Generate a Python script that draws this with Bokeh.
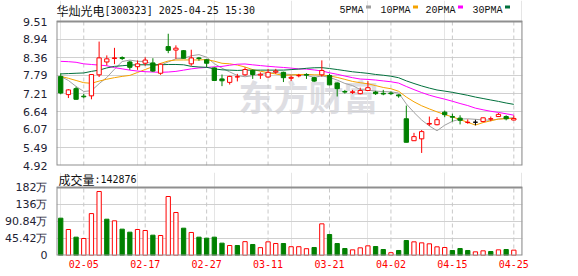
import numpy as np
from bokeh.plotting import figure
from bokeh.layouts import column
from bokeh.models import ColumnDataSource, FixedTicker, NumeralTickFormatter, Range1d, LinearAxis
from bokeh.embed import file_html
from bokeh.resources import INLINE
from bokeh.core.properties import value

# ---------------- data ----------------
dates = ["01-23", "01-24", "01-27", "02-05", "02-06", "02-07", "02-10", "02-11", "02-12", "02-13",
         "02-14", "02-17", "02-18", "02-19", "02-20", "02-21", "02-24", "02-25", "02-26", "02-27",
         "02-28", "03-03", "03-04", "03-05", "03-06", "03-07", "03-10", "03-11", "03-12", "03-13",
         "03-14", "03-17", "03-18", "03-19", "03-20", "03-21", "03-24", "03-25", "03-26", "03-27",
         "03-28", "03-31", "04-01", "04-02", "04-03", "04-07", "04-08", "04-09", "04-10", "04-11",
         "04-14", "04-15", "04-16", "04-17", "04-18", "04-21", "04-22", "04-23", "04-24", "04-25"]
opens = [7.76, 7.18, 7.37, 7.13, 7.14, 7.81, 8.22, 8.33, 8.36, 8.22,
         8.07, 8.18, 8.19, 7.86, 8.71, 8.60, 8.58, 8.16, 8.35, 8.29,
         8.03, 7.68, 7.57, 7.74, 7.81, 7.95, 7.80, 7.74, 7.90, 7.89,
         7.70, 7.78, 7.82, 7.72, 7.81, 7.79, 7.55, 7.28, 7.25, 7.21,
         7.31, 7.26, 7.22, 7.23, 7.17, 6.41, 5.71, 5.77, 6.24, 6.22,
         6.62, 6.48, 6.43, 6.29, 6.30, 6.32, 6.40, 6.48, 6.48, 6.37]
highs = [7.86, 7.35, 7.43, 7.20, 7.83, 8.87, 8.43, 8.67, 8.40, 8.26,
         8.27, 8.37, 8.34, 8.17, 9.12, 8.75, 8.60, 8.61, 8.38, 8.31,
         8.05, 7.82, 7.78, 7.84, 8.05, 7.98, 7.89, 8.00, 8.00, 7.91,
         7.79, 7.84, 7.86, 7.75, 8.27, 7.84, 7.57, 7.33, 7.33, 7.40,
         7.61, 7.30, 7.33, 7.28, 7.19, 6.83, 5.96, 6.05, 6.48, 6.46,
         6.67, 6.57, 6.52, 6.39, 6.38, 6.45, 6.48, 6.59, 6.52, 6.51]
lows = [7.19, 7.07, 7.02, 7.06, 7.03, 7.74, 8.11, 8.15, 8.28, 7.97,
        7.97, 8.10, 7.90, 7.81, 8.50, 8.32, 8.33, 8.10, 8.26, 8.05,
        7.62, 7.45, 7.50, 7.60, 7.78, 7.68, 7.68, 7.72, 7.84, 7.58,
        7.61, 7.73, 7.68, 7.58, 7.75, 7.48, 7.12, 7.21, 7.20, 7.19,
        7.30, 7.17, 7.16, 7.17, 7.08, 5.66, 5.70, 5.32, 6.18, 6.20,
        6.46, 6.32, 6.23, 6.25, 6.20, 6.30, 6.33, 6.47, 6.36, 6.36]
closes = [7.23, 7.33, 7.03, 7.11, 7.82, 8.35, 8.32, 8.35, 8.33, 8.05,
          8.16, 8.28, 7.93, 8.15, 8.59, 8.66, 8.34, 8.35, 8.33, 8.18,
          7.63, 7.62, 7.76, 7.75, 7.98, 7.82, 7.83, 7.89, 7.93, 7.72,
          7.73, 7.79, 7.80, 7.61, 7.95, 7.49, 7.37, 7.26, 7.27, 7.31,
          7.40, 7.21, 7.20, 7.21, 7.14, 5.66, 5.84, 6.00, 6.26, 6.38,
          6.54, 6.46, 6.36, 6.30, 6.30, 6.44, 6.41, 6.55, 6.41, 6.42]
close_before_first = 7.80
volumes = [99.7, 69.5, 49.0, 45.4, 112.0, 171.0, 97.0, 92.6, 70.4, 62.3,
           69.5, 66.8, 54.3, 53.4, 157.6, 114.9, 73.0, 61.5, 49.0, 46.3,
           49.0, 33.0, 26.7, 26.7, 37.0, 29.4, 21.0, 36.5, 32.0, 32.0,
           23.5, 23.5, 18.2, 21.4, 84.6, 56.1, 32.0, 18.7, 15.1, 20.5,
           25.8, 24.0, 16.0, 7.5, 13.4, 40.0, 36.5, 33.8, 31.2, 23.2,
           21.4, 13.4, 18.7, 13.4, 9.8, 12.5, 10.7, 15.1, 16.0, 14.2876]  # 万股
ma5 = [7.76, 7.63, 7.44, 7.28, 7.304, 7.528, 7.726, 7.99, 8.234, 8.28,
       8.242, 8.234, 8.15, 8.114, 8.222, 8.322, 8.334, 8.418, 8.454, 8.372,
       8.166, 8.022, 7.904, 7.788, 7.748, 7.786, 7.828, 7.854, 7.89, 7.838,
       7.82, 7.812, 7.794, 7.73, 7.776, 7.728, 7.644, 7.536, 7.468, 7.34,
       7.322, 7.29, 7.278, 7.266, 7.232, 6.884, 6.61, 6.37, 6.18, 6.028,
       6.204, 6.328, 6.40, 6.408, 6.392, 6.372, 6.362, 6.40, 6.422, 6.446]
ma10 = [7.76, 7.70, 7.63, 7.56, 7.54, 7.61, 7.67, 7.72, 7.76, 7.792,
        7.885, 7.98, 8.07, 8.174, 8.251, 8.282, 8.284, 8.284, 8.284, 8.297,
        8.244, 8.178, 8.161, 8.121, 8.06, 7.976, 7.925, 7.879, 7.839, 7.793,
        7.803, 7.82, 7.824, 7.81, 7.807, 7.774, 7.728, 7.665, 7.599, 7.558,
        7.525, 7.467, 7.407, 7.367, 7.286, 7.103, 6.95, 6.824, 6.723, 6.63,
        6.544, 6.469, 6.385, 6.294, 6.21, 6.288, 6.345, 6.40, 6.415, 6.419]
ma20 = [8.24, 8.23, 8.21, 8.16, 8.14, 8.12, 8.10, 8.04, 8.00, 7.96,
        7.93, 7.91, 7.90, 7.89, 7.90, 7.92, 7.96, 8.00, 8.03, 8.045,
        8.065, 8.079, 8.116, 8.148, 8.156, 8.129, 8.105, 8.082, 8.062, 8.045,
        8.024, 7.999, 7.993, 7.966, 7.934, 7.875, 7.827, 7.772, 7.719, 7.676,
        7.664, 7.644, 7.616, 7.589, 7.547, 7.439, 7.339, 7.245, 7.161, 7.094,
        7.035, 6.968, 6.896, 6.831, 6.748, 6.696, 6.648, 6.612, 6.569, 6.525]
ma30 = [7.84, 7.85, 7.86, 7.87, 7.92, 7.96, 8.03, 8.08, 8.10, 8.12,
        8.13, 8.13, 8.13, 8.13, 8.14, 8.14, 8.13, 8.08, 8.06, 8.05,
        8.00, 7.97, 7.96, 7.95, 7.96, 7.96, 7.96, 7.96, 7.96, 7.961,
        7.977, 7.993, 8.018, 8.035, 8.039, 8.011, 7.979, 7.943, 7.907, 7.883,
        7.857, 7.822, 7.797, 7.766, 7.718, 7.618, 7.534, 7.456, 7.387, 7.327,
        7.291, 7.252, 7.205, 7.157, 7.101, 7.055, 7.008, 6.963, 6.912, 6.869]
price_ticks = [4.92, 5.49, 6.07, 6.64, 7.21, 7.79, 8.36, 8.94, 9.51]
vol_ticks = [0, 45.42, 90.84, 136.26, 181.68]
vol_tick_labels = ["0", "45.42万", "90.84万", "136万", "182万"]
date_tick_labels = ["02-05", "02-17", "02-27", "03-11", "03-21", "04-02", "04-15", "04-25"]
ma_names = ["5PMA", "10PMA", "20PMA", "30PMA"]
stock_name = "华灿光电"
stock_info = "[300323] 2025-04-25 15:30"
vol_title = "成交量"
watermark = "东方财富"

# ---------------- styles / layout ----------------
RED, GREEN, FLAT = "#ff0000", "#008000", "#000000"
MA_COLORS = ["#a0a0a0", "#f5a300", "#ff00ff", "#00703c"]
LABEL_COLOR = "#222233"
TEXT_COLOR = "#111111"
GRID_COLOR = "#d0d0d0"
VGRID_COLOR = "#c8c8c8"
BORDER = "#8f8f8f"
W = 578
FRAME_W = 466
P1_H, P1_HEAD, P1_PLOT = 172, 21, 144     # price panel: header px above plot box, plot box px
P2_H, P2_HEAD, P2_PLOT = 104, 15, 68      # volume panel

n = len(dates)
idx = np.arange(n)
o, c, h, l = map(np.array, (opens, closes, highs, lows))
candle_color = np.where(c > o, RED, np.where(c < o, GREEN, FLAT))
candle_fill = np.where(c > o, "#ffffff", candle_color)
prev = np.concatenate([[close_before_first], c[:-1]])
vol_color = np.where(c >= prev, RED, GREEN)
vol_fill = np.where(c >= prev, "#ffffff", GREEN)

src = ColumnDataSource(dict(
    x=idx, high=h, low=l, top=np.maximum(o, c), bottom=np.minimum(o, c),
    color=candle_color, fill=candle_fill,
    vol=volumes, vcolor=vol_color, vfill=vol_fill,
    ma5=ma5, ma10=ma10, ma20=ma20, ma30=ma30,
))
tick_idx = [dates.index(d) for d in date_tick_labels]

X0, X1 = -0.55, 60.13
xr = Range1d(X0, X1)
PXX = FRAME_W / (X1 - X0)


def px_x(px):
    """x position px pixels right of the plot box's left edge"""
    return X0 + px / PXX


def base_fig(height, lo, hi, head, plot_px, bottom):
    per = plot_px / (hi - lo)
    p = figure(width=W, height=height, x_range=xr, y_range=Range1d(lo, hi + head / per),
               output_backend="svg", toolbar_location=None, x_axis_location=None,
               y_axis_location="left", min_border_left=56, min_border_right=56,
               min_border_top=0, min_border_bottom=bottom)
    p.outline_line_color = None
    p.background_fill_color = "white"
    p.border_fill_color = "white"
    ax = p.yaxis[0]
    ax.axis_line_color = None
    ax.major_tick_line_color = None
    ax.minor_tick_line_color = None
    ax.major_label_standoff = 3
    ax.major_label_text_font = "DejaVu Sans"
    ax.major_label_text_font_size = "11px"
    ax.major_label_text_color = LABEL_COLOR
    p.ygrid.grid_line_color = GRID_COLOR
    p.ygrid.grid_line_width = 1
    # vertical dashed date grid, limited to the plot box
    p.segment(x0=tick_idx, y0=[lo] * len(tick_idx), x1=tick_idx, y1=[hi] * len(tick_idx),
              line_color=VGRID_COLOR, line_dash="4 3", line_width=1)
    return p, per


def add_box(p, lo, hi):
    p.quad(left=[X0], right=[X1], bottom=[lo], top=[hi], fill_color=None,
           line_color=BORDER, line_width=2)


def add_text(p, px, y, text, font, size, color=TEXT_COLOR, **kw):
    p.text(x=[px_x(px)], y=[y], text=[text], text_font=value(font),
           text_font_size=value(size), text_color=color,
           text_baseline=kw.pop("baseline", "alphabetic"),
           text_align=kw.pop("align", "left"), **kw)


# ---------------- price panel ----------------
lo1, hi1 = price_ticks[0], price_ticks[-1]
p1, per1 = base_fig(P1_H, lo1, hi1, P1_HEAD, P1_PLOT, 7)
p1.yaxis.ticker = FixedTicker(ticks=price_ticks)
p1.yaxis.formatter = NumeralTickFormatter(format="0.00")

add_text(p1, 252, lo1 + 70 / per1, watermark, "Noto Sans CJK SC", "35px", "#dedee3",
         align="center", baseline="middle", text_font_style="bold", level="underlay")

for name, col in zip(["ma5", "ma10", "ma20", "ma30"], MA_COLORS):
    p1.line("x", name, source=src, line_color=col, line_width=1)

p1.segment(x0="x", y0="high", x1="x", y1="low", line_color="color", line_width=1, source=src)
p1.vbar(x="x", width=0.56, top="top", bottom="bottom", fill_color="fill",
        line_color="color", line_width=1, source=src)
add_box(p1, lo1, hi1)

# header: title + MA legend
add_text(p1, 0, hi1 + 11 / per1, stock_name, "Noto Sans CJK SC", "12px")
add_text(p1, 48, hi1 + 11 / per1, stock_info, "DejaVu Sans Mono", "10px")
legend_offsets = [283, 324, 369, 416]
for name, col, off in zip(ma_names, MA_COLORS, legend_offsets):
    add_text(p1, off, hi1 + 11.5 / per1, name, "Liberation Mono", "10px")
    p1.rect(x=[px_x(off + 6 * len(name) + 5)], y=[hi1 + 14.5 / per1], width=5, height=3,
            width_units="screen", height_units="screen", fill_color=col, line_color=None)

# ---------------- volume panel ----------------
lo2, hi2 = vol_ticks[0], vol_ticks[-1]
p2, per2 = base_fig(P2_H, lo2, hi2, P2_HEAD, P2_PLOT, 21)
p2.yaxis.ticker = FixedTicker(ticks=vol_ticks)
p2.yaxis.major_label_overrides = {t: s for t, s in zip(vol_ticks, vol_tick_labels)}

p2.vbar(x="x", width=0.56, top="vol", bottom=0, fill_color="vfill", line_color="vcolor",
        line_width=1, source=src)
add_box(p2, lo2, hi2)

add_text(p2, 2, hi2 + 8.5 / per2, vol_title, "Noto Sans CJK SC", "12px")
add_text(p2, 38, hi2 + 8.5 / per2, ":" + str(int(round(volumes[-1] * 10000))),
         "DejaVu Sans Mono", "10px")

# date axis under the volume panel
xa = LinearAxis(ticker=FixedTicker(ticks=tick_idx),
                major_label_overrides={i: d for i, d in zip(tick_idx, date_tick_labels)})
xa.axis_line_color = None
xa.major_tick_line_color = None
xa.minor_tick_line_color = None
xa.major_label_standoff = -2
xa.major_label_text_font = "DejaVu Sans Mono"
xa.major_label_text_font_size = "10px"
xa.major_label_text_color = RED
p2.add_layout(xa, "below")

layout = column(p1, p2)
open("out.html", "w").write(file_html(layout, INLINE))
